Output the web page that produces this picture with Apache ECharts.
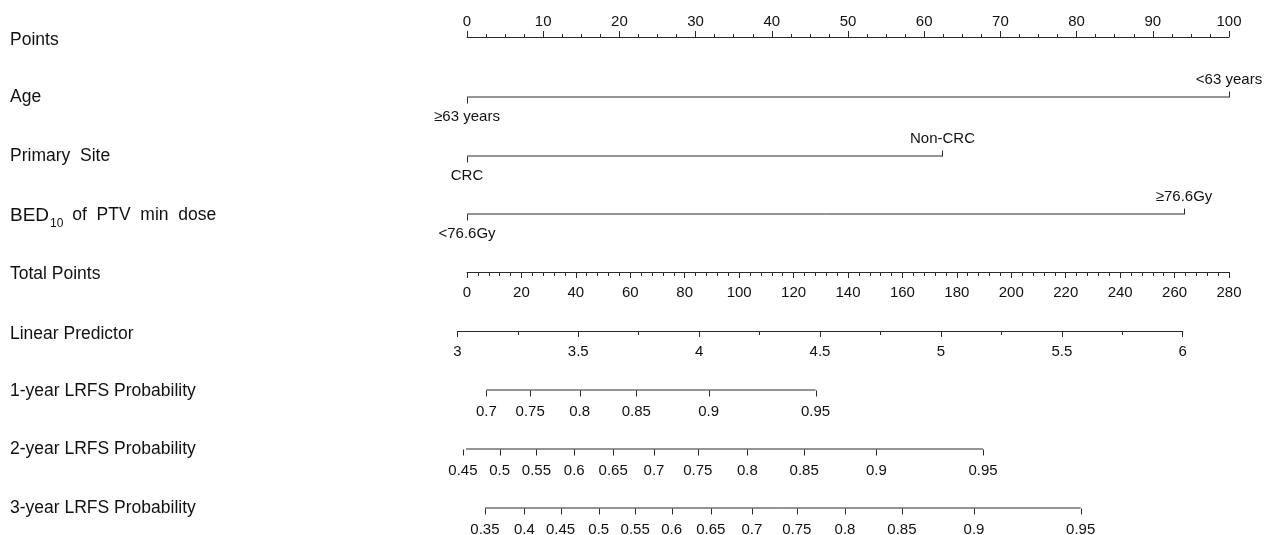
<!DOCTYPE html>
<html><head><meta charset="utf-8">
<script src="https://cdn.jsdelivr.net/npm/echarts@6/dist/echarts.min.js"></script>
<style>html,body{margin:0;padding:0;background:#fff}#c{width:1265px;height:535px}</style>
</head><body><div id="c"></div>
<script>
// ---------- data ----------
const rowTitles = ['Points', 'Age', 'Primary  Site', 'BED10 of  PTV  min  dose', 'Total Points',
  'Linear Predictor', '1-year LRFS Probability', '2-year LRFS Probability', '3-year LRFS Probability'];
const pointsRange = [0, 100];
const totalPointsRange = [0, 280];
const lpRange = [3, 6];
const lpAtTotalPoints = [-3.56, 263.0];   // total points where LP = 3 and LP = 6

const ageLevels = ['≥63 years', '<63 years'];
const agePoints = [0, 100];
const siteLevels = ['CRC', 'Non-CRC'];
const sitePoints = [0, 62.4];
const bedLevels = ['<76.6Gy', '≥76.6Gy'];
const bedPoints = [0, 94.1];

const prob1Labels = ['0.7', '0.75', '0.8', '0.85', '0.9', '0.95'];
const prob1Points = [7.1, 23.2, 41.4, 62.2, 88.8, 128.1];
const prob2Labels = ['0.45', '0.5', '0.55', '0.6', '0.65', '0.7', '0.75', '0.8', '0.85', '0.9', '0.95'];
const prob2Points = [-1.5, 12.0, 25.5, 39.4, 53.7, 68.7, 84.8, 103.0, 123.9, 150.4, 189.6];
const prob3Labels = ['0.35', '0.4', '0.45', '0.5', '0.55', '0.6', '0.65', '0.7', '0.75', '0.8', '0.85', '0.9', '0.95'];
const prob3Points = [6.6, 21.1, 34.4, 48.4, 61.8, 75.2, 89.6, 104.7, 121.2, 138.9, 159.8, 186.3, 225.5];

// ---------- layout / style ----------
const FONT = '"Liberation Sans", Arial, sans-serif';
const TXT = '#111111';
const LINE = '#2a2a2a';
const TICK_FS = 15;
const TITLE_FS = 17.5;
const AX_LEFT = 467, AX_WIDTH = 762;
const rowLineY = [37, 97, 156, 214, 272, 331, 390, 449, 508];
const titleY = [40, 97, 156, 214, 274, 334, 391, 449, 508];

const chart = echarts.init(document.getElementById('c'), null, {renderer: 'canvas'});

const grids = [], xAxes = [], yAxes = [], series = [];
function addGrid(top, height, left, width) {
  grids.push({left: left, width: width, top: top, height: height, containLabel: false, outerBoundsMode: 'none', show: false});
  yAxes.push({gridIndex: grids.length - 1, type: 'value', min: 0, max: 1, show: false});
  return grids.length - 1;
}
const tickLine = {color: LINE, width: 1};
const labelStyle = {fontSize: TICK_FS, color: TXT, fontFamily: FONT};

// Points axis (top)
let g = addGrid(rowLineY[0], 20, AX_LEFT, AX_WIDTH);
xAxes.push({gridIndex: g, type: 'value', position: 'top', min: pointsRange[0], max: pointsRange[1], interval: 10,
  axisLine: {show: true, onZero: false, lineStyle: tickLine},
  axisTick: {show: true, length: 6, lineStyle: tickLine},
  minorTick: {show: true, splitNumber: 4, length: 3, lineStyle: tickLine},
  splitLine: {show: false}, minorSplitLine: {show: false},
  axisLabel: Object.assign({margin: 8, showMinLabel: true, showMaxLabel: true, hideOverlap: false}, labelStyle)});

// categorical rows
function catRow(rowIdx, levels, pts) {
  const gi = addGrid(rowLineY[rowIdx] - 10, 20, AX_LEFT, AX_WIDTH);
  xAxes.push({gridIndex: gi, type: 'value', min: pointsRange[0], max: pointsRange[1], show: false});
  const xi = xAxes.length - 1, yi = yAxes.length - 1;
  series.push({type: 'line', xAxisIndex: xi, yAxisIndex: yi, clip: false, symbol: 'none', silent: true,
    lineStyle: {color: LINE, width: 1}, data: [[pts[0], 0.5], [pts[pts.length - 1], 0.5]]});
  series.push({type: 'custom', xAxisIndex: xi, yAxisIndex: yi, clip: false, silent: true,
    data: pts.map((p, i) => [p, 0.5, i]),
    renderItem: function (params, api) {
      const c = api.coord([api.value(0), api.value(1)]);
      const i = api.value(2);
      const up = i % 2 === 1;
      const x = Math.round(c[0]) + 0.5, y = Math.round(c[1]) + 0.5;
      return {type: 'group', children: [
        {type: 'line', shape: {x1: x, y1: y, x2: x, y2: y + (up ? -6 : 6)}, style: {stroke: LINE, lineWidth: 1}},
        {type: 'text', x: c[0], y: up ? y - 18 : y + 19,
          style: {text: levels[i], fill: TXT, fontSize: TICK_FS, fontFamily: FONT,
            align: 'center', verticalAlign: 'middle', textAlign: 'center', textVerticalAlign: 'middle'}}
      ]};
    }});
}
catRow(1, ageLevels, agePoints);
catRow(2, siteLevels, sitePoints);
catRow(3, bedLevels, bedPoints);

// Total points axis
g = addGrid(rowLineY[4] - 20, 20, AX_LEFT, AX_WIDTH);
xAxes.push({gridIndex: g, type: 'value', position: 'bottom', min: totalPointsRange[0], max: totalPointsRange[1], interval: 20,
  axisLine: {show: true, onZero: false, lineStyle: tickLine},
  axisTick: {show: true, length: 6, lineStyle: tickLine},
  minorTick: {show: true, splitNumber: 5, length: 4, lineStyle: tickLine},
  splitLine: {show: false}, minorSplitLine: {show: false},
  axisLabel: Object.assign({margin: 13, showMinLabel: true, showMaxLabel: true, hideOverlap: false}, labelStyle)});

// Linear predictor axis (positioned via its total-points equivalents)
const pxPerTotal = AX_WIDTH / (totalPointsRange[1] - totalPointsRange[0]);
const lpLeft = AX_LEFT + lpAtTotalPoints[0] * pxPerTotal;
const lpWidth = (lpAtTotalPoints[1] - lpAtTotalPoints[0]) * pxPerTotal;
g = addGrid(rowLineY[5] - 20, 20, lpLeft, lpWidth);
xAxes.push({gridIndex: g, type: 'value', position: 'bottom', min: lpRange[0], max: lpRange[1], interval: 0.5,
  axisLine: {show: true, onZero: false, lineStyle: tickLine},
  axisTick: {show: true, length: 6, lineStyle: tickLine},
  minorTick: {show: true, splitNumber: 2, length: 4, lineStyle: tickLine},
  splitLine: {show: false}, minorSplitLine: {show: false},
  axisLabel: Object.assign({margin: 13, showMinLabel: true, showMaxLabel: true, hideOverlap: false}, labelStyle)});

// probability rows
function probRow(rowIdx, labels, pts) {
  const gi = addGrid(rowLineY[rowIdx] - 10, 20, AX_LEFT, AX_WIDTH);
  xAxes.push({gridIndex: gi, type: 'value', min: totalPointsRange[0], max: totalPointsRange[1], show: false});
  const xi = xAxes.length - 1, yi = yAxes.length - 1;
  series.push({type: 'line', xAxisIndex: xi, yAxisIndex: yi, clip: false, symbol: 'none', silent: true,
    lineStyle: {color: LINE, width: 1}, data: [[pts[0], 0.5], [pts[pts.length - 1], 0.5]]});
  series.push({type: 'custom', xAxisIndex: xi, yAxisIndex: yi, clip: false, silent: true,
    data: pts.map((p, i) => [p, 0.5, i]),
    renderItem: function (params, api) {
      const c = api.coord([api.value(0), api.value(1)]);
      const i = api.value(2);
      const x = Math.round(c[0]) + 0.5, y = Math.round(c[1]) + 0.5;
      return {type: 'group', children: [
        {type: 'line', shape: {x1: x, y1: y, x2: x, y2: y + 6}, style: {stroke: LINE, lineWidth: 1}},
        {type: 'text', x: c[0], y: y + 21,
          style: {text: labels[i], fill: TXT, fontSize: TICK_FS, fontFamily: FONT,
            align: 'center', verticalAlign: 'middle', textAlign: 'center', textVerticalAlign: 'middle'}}
      ]};
    }});
}
probRow(6, prob1Labels, prob1Points);
probRow(7, prob2Labels, prob2Points);
probRow(8, prob3Labels, prob3Points);

// row titles
const graphics = rowTitles.map((t, i) => {
  if (i === 3) {
    return {type: 'text', x: 10, y: titleY[i] - 8,
      style: {text: '{h|BED}{s|10}{b| of  PTV  min  dose}', fill: TXT, fontFamily: FONT,
        verticalAlign: 'top', textVerticalAlign: 'top',
        rich: {
          h: {fontSize: 19, fontFamily: FONT, fill: TXT, color: TXT, lineHeight: 20, verticalAlign: 'top'},
          b: {fontSize: TITLE_FS, fontFamily: FONT, fill: TXT, color: TXT, lineHeight: 20, verticalAlign: 'top'},
          s: {fontSize: 12, fontFamily: FONT, fill: TXT, color: TXT, lineHeight: 24, verticalAlign: 'bottom', padding: [0, 4, 0, 1]}
        }}};
  }
  return {type: 'text', x: 10, y: titleY[i],
    style: {text: t, fill: TXT, fontSize: TITLE_FS, fontFamily: FONT, verticalAlign: 'middle', textVerticalAlign: 'middle'}};
});

chart.setOption({
  animation: false,
  backgroundColor: '#ffffff',
  grid: grids, xAxis: xAxes, yAxis: yAxes, series: series,
  graphic: graphics
});
</script></body></html>
